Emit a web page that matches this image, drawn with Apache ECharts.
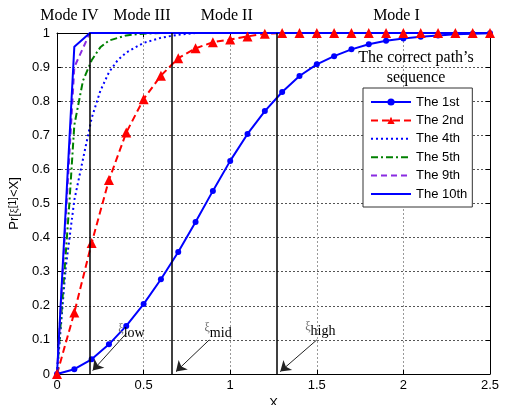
<!DOCTYPE html>
<html>
<head>
<meta charset="utf-8">
<script src="https://cdn.jsdelivr.net/npm/echarts@6/dist/echarts.min.js"></script>
<style>
  html, body { margin: 0; padding: 0; background: #fff; }
  #chart { width: 505px; height: 405px; }
</style>
</head>
<body>
<div id="chart"></div>
<script>
// values
const names = ['The 1st', 'The 2nd', 'The 4th', 'The 5th', 'The 9th', 'The 10th']
const markerless = ['The 4th', 'The 5th', 'The 9th', 'The 10th']

const xStep = [0, 0.1, 0.2, 0.3, 0.4, 0.5, 0.6, 0.7, 0.8, 0.9, 1.0, 1.1, 1.2, 1.3,
  1.4, 1.5, 1.6, 1.7, 1.8, 1.9, 2.0, 2.1, 2.2, 2.3, 2.4, 2.5]
const y1st = [0, 0.014, 0.043, 0.087, 0.141, 0.205, 0.278, 0.358, 0.446, 0.537, 0.625,
  0.704, 0.771, 0.827, 0.874, 0.908, 0.932, 0.952, 0.967, 0.977, 0.984, 0.989, 0.993,
  0.996, 0.998, 0.999]
const y2nd = [0, 0.18, 0.384, 0.569, 0.708, 0.806, 0.875, 0.926, 0.955, 0.973, 0.981,
  0.99, 0.998, 1, 1, 1, 1, 1, 1, 1, 1, 1, 1, 1, 1, 1]

const x4th = [0, 0.05, 0.1, 0.15, 0.2, 0.25, 0.3, 0.35, 0.4, 0.5, 0.6, 0.7, 0.8, 2.5]
const y4th = [0, 0.31, 0.51, 0.63, 0.75, 0.83, 0.885, 0.92, 0.943, 0.971, 0.986, 0.995, 1, 1]

const x5th = [0, 0.05, 0.07, 0.1, 0.15, 0.2, 0.25, 0.3, 0.4, 0.5, 0.6, 2.5]
const y5th = [0, 0.35, 0.49, 0.73, 0.86, 0.92, 0.958, 0.978, 0.993, 0.998, 1, 1]

const x9th = [0, 0.1, 0.19, 2.5]
const y9th = [0, 0.9, 1, 1]

const x10th = [0, 0.1, 0.19, 2.5]
const y10th = [0, 0.96, 1, 1]

// mode boundaries (xi_low, xi_mid, xi_high) and the labels above the plot
const modeBounds = [0.186, 0.658, 1.27]
const modeNames = ['Mode IV', 'Mode III', 'Mode II', 'Mode I']
const modeLabelX = [0.072, 0.49, 0.98, 1.96]

// annotation arrows: start -> end, and their text
const arrowFrom = [[0.4, 0.119], [0.879, 0.1], [1.5, 0.1]]
const arrowTo = [[0.206, 0.01], [0.687, 0.007], [1.289, 0.007]]
const xiNames = ['low', 'mid', 'high']
const xiLabelPos = [[0.43, 0.124], [0.93, 0.126], [1.52, 0.13]]

const pairs = (xs, ys) => xs.map((x, i) => [x, ys[i]])

const serif = 'Liberation Serif'
const sans = 'Liberation Sans'

const chart = echarts.init(document.getElementById('chart'))

const baseLine = (name, xs, ys, color, type, symbol, symbolSize) => ({
  name,
  type: 'line',
  data: pairs(xs, ys),
  symbol: symbol || 'none',
  symbolSize: symbolSize || 0,
  showSymbol: !!symbol,
  lineStyle: { color, width: 2, type },
  itemStyle: { color },
  z: 3
})

chart.setOption({
  animation: false,
  grid: { left: 57, right: 15, top: 33, bottom: 31, outerBoundsMode: 'none' },
  legend: {
    data: names.map(n => markerless.includes(n) ? { name: n, itemStyle: { opacity: 0 } } : n),
    orient: 'vertical',
    left: 363,
    top: 88,
    padding: [7, 5, 6, 7],
    itemWidth: 40,
    itemHeight: 9,
    itemGap: 4.4,
    borderColor: '#333',
    borderWidth: 1,
    backgroundColor: '#fff',
    textStyle: { fontFamily: sans, fontSize: 13, lineHeight: 14, color: '#000' }
  },
  xAxis: [{
    type: 'value',
    min: 0,
    max: 2.5,
    interval: 0.5,
    name: 'X',
    nameLocation: 'middle',
    nameGap: 17,
    nameTextStyle: { fontFamily: sans, fontSize: 13, color: '#000' },
    axisLine: { lineStyle: { color: '#000', width: 1 } },
    axisTick: { inside: true, length: 4, lineStyle: { color: '#000' } },
    axisLabel: { fontFamily: sans, fontSize: 13, color: '#000', margin: 5 },
    splitLine: { show: true, lineStyle: { color: '#999', type: [2, 2], width: 1 } }
  }, {
    type: 'value',
    position: 'top',
    min: 0,
    max: 2.5,
    interval: 0.5,
    axisLine: { show: true, onZero: false, lineStyle: { color: '#000', width: 1 } },
    axisTick: { show: true, inside: true, length: 4, lineStyle: { color: '#000' } },
    axisLabel: { show: false },
    splitLine: { show: false }
  }],
  yAxis: [{
    type: 'value',
    min: 0,
    max: 1,
    interval: 0.1,
    name: 'Pr[{xi|ξ}{sup|[1]}<X]',
    nameLocation: 'middle',
    nameGap: 27,
    nameTextStyle: {
      fontFamily: sans,
      fontSize: 13,
      color: '#000',
      rich: {
        xi: { fontFamily: serif, fontSize: 11, color: '#000' },
        sup: { fontFamily: sans, fontSize: 10, color: '#000', verticalAlign: 'top' }
      }
    },
    axisLine: { lineStyle: { color: '#000', width: 1 } },
    axisTick: { inside: true, length: 4, lineStyle: { color: '#000' } },
    axisLabel: { fontFamily: sans, fontSize: 13, color: '#000', margin: 7 },
    splitLine: { show: true, lineStyle: { color: '#555', type: [2, 2], width: 1 } }
  }, {
    type: 'value',
    position: 'right',
    min: 0,
    max: 1,
    interval: 0.1,
    axisLine: { show: true, onZero: false, lineStyle: { color: '#000', width: 1 } },
    axisTick: { show: true, inside: true, length: 4, lineStyle: { color: '#000' } },
    axisLabel: { show: false },
    splitLine: { show: false }
  }],
  graphic: [{
    type: 'text',
    x: 416,
    y: 68,
    style: {
      text: 'The correct path’s\nsequence',
      fontFamily: serif,
      fontSize: 16,
      lineHeight: 20,
      fill: '#000',
      align: 'center',
      verticalAlign: 'middle'
    },
    z: 1
  }],
  series: [
    baseLine('The 1st', xStep, y1st, '#0000ff', 'solid', 'circle', 6),
    baseLine('The 2nd', xStep, y2nd, '#ff0000', [7, 4], 'triangle', 10),
    baseLine('The 4th', x4th, y4th, '#0000ff', [2, 3]),
    baseLine('The 5th', x5th, y5th, '#008000', [7, 3, 2, 3]),
    baseLine('The 9th', x9th, y9th, '#8a2be2', [6, 4]),
    baseLine('The 10th', x10th, y10th, '#0000ff', 'solid'),
    {
      // mode boundary lines
      type: 'line',
      data: [],
      silent: true,
      markLine: {
        silent: true,
        symbol: 'none',
        label: { show: false },
        lineStyle: { color: '#000', width: 1.5, type: 'solid' },
        data: modeBounds.map(v => ({ xAxis: v }))
      },
      markPoint: {
        silent: true,
        symbol: 'circle',
        symbolSize: 1,
        itemStyle: { color: 'transparent' },
        label: {
          show: true,
          position: 'inside',
          offset: [0, -17],
          fontFamily: serif,
          fontSize: 16,
          color: '#000',
          formatter: p => p.name
        },
        data: modeLabelX.map((x, i) => ({ name: modeNames[i], coord: [x, 1] }))
      }
    },
    {
      // xi annotations
      type: 'line',
      data: [],
      silent: true,
      z: 4,
      markLine: {
        silent: true,
        symbol: ['none', 'arrow'],
        symbolSize: 10,
        label: { show: false },
        lineStyle: { color: '#222', width: 1, type: 'solid', opacity: 1 },
        data: arrowFrom.map((p, i) => [{ coord: p }, { coord: arrowTo[i] }])
      },
      markPoint: {
        silent: true,
        symbol: 'circle',
        symbolSize: 1,
        itemStyle: { color: 'transparent' },
        label: {
          show: true,
          position: 'inside',
          formatter: p => '{xi|ξ}{sub|' + p.name + '}',
          rich: {
            xi: { fontFamily: serif, fontSize: 12, color: '#666', verticalAlign: 'top', lineHeight: 18 },
            sub: { fontFamily: serif, fontSize: 14, color: '#000', verticalAlign: 'bottom', lineHeight: 18 }
          }
        },
        data: xiLabelPos.map((p, i) => ({ name: xiNames[i], coord: p }))
      }
    }
  ]
})
</script>
</body>
</html>
